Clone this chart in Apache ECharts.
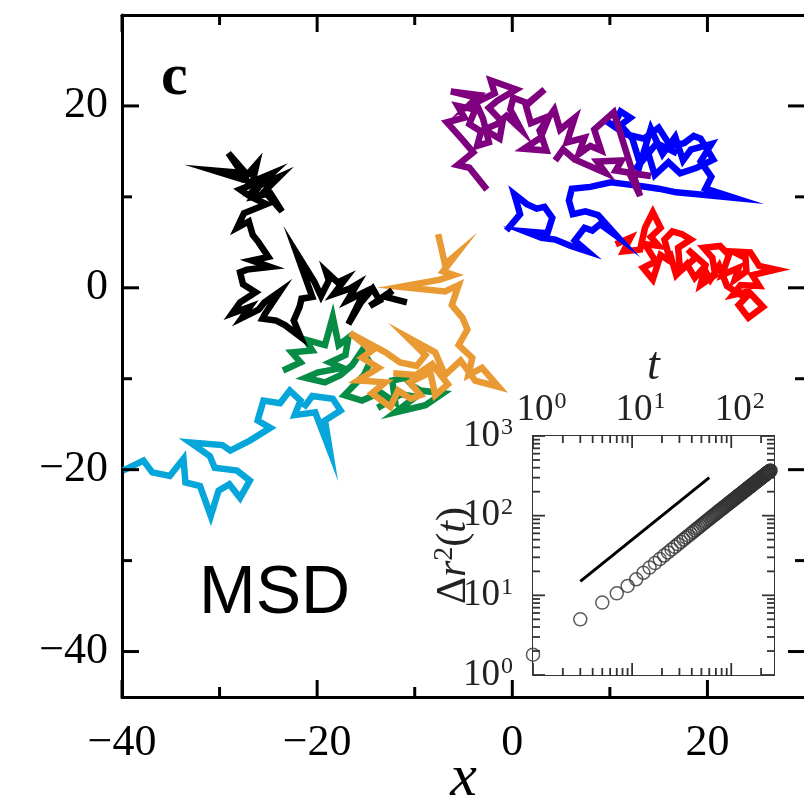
<!DOCTYPE html>
<html>
<head>
<meta charset="utf-8">
<script src="https://cdn.jsdelivr.net/npm/echarts@6/dist/echarts.min.js"></script>
<style>
  html, body { margin: 0; padding: 0; background: #fff; }
  #chart { width: 804px; height: 807px; }
</style>
</head>
<body>
<div id="chart"></div>
<script>
// ---- trajectories (x, y) ----
const blackPath = [[-27.0,11.5],[-29.1,14.8],[-27.3,12.6],[-30.6,12.9],[-27.6,11.9],[-26.2,13.6],[-26.6,11.7],[-24.6,12.6],[-26.0,11.2],[-23.9,12.2],[-25.4,10.6],[-23.6,8.4],[-24.8,10.4],[-26.6,10.0],[-25.6,11.8],[-27.9,10.8],[-26.8,10.0],[-25.2,9.2],[-27.5,8.2],[-28.2,6.6],[-27.0,7.3],[-26.6,5.8],[-26.0,5.0],[-25.0,3.4],[-26.7,3.0],[-24.8,2.3],[-27.2,2.0],[-27.9,1.7],[-27.6,0.4],[-26.3,-0.5],[-27.9,-1.6],[-28.7,-2.8],[-26.9,-2.1],[-27.7,-3.3],[-26.0,-2.4],[-25.4,-1.6],[-23.8,-0.4],[-25.3,-2.8],[-25.6,-3.4],[-24.2,-3.6],[-23.3,-4.1],[-21.7,-5.4],[-22.4,-3.6],[-21.8,-2.1],[-21.6,-1.2],[-20.5,-1.0],[-22.1,3.8],[-20.3,0.7],[-19.6,-0.9],[-18.8,0.8],[-19.1,1.8],[-17.9,0.6],[-17.1,1.0],[-18.3,-0.7],[-16.7,-0.1],[-15.9,0.4],[-16.9,-1.4],[-15.2,-0.5],[-16.8,-4.0],[-15.5,-1.6],[-14.3,-0.1],[-13.6,-1.4],[-14.6,-2.0],[-12.3,-0.3],[-13.0,-1.0],[-10.8,-1.6]];
const purplePath = [[-2.6,10.8],[-4.4,13.2],[-5.6,13.5],[-4.0,14.9],[-5.2,16.4],[-6.7,18.2],[-4.9,18.7],[-5.6,20.0],[-3.8,19.6],[-4.4,18.0],[-3.2,17.2],[-3.6,15.6],[-2.4,16.0],[-3.0,18.6],[-4.0,21.0],[-6.3,21.6],[-3.4,21.2],[-4.6,19.9],[-1.8,21.4],[-2.2,22.8],[0.4,21.8],[-1.5,20.6],[-2.4,19.8],[-1.0,18.2],[-1.3,16.4],[-2.9,17.4],[-1.6,18.0],[-0.6,18.9],[0.9,17.4],[-0.2,19.6],[0.1,20.9],[1.6,20.3],[3.3,21.8],[1.4,20.0],[1.9,18.1],[3.8,18.9],[2.9,16.5],[1.2,15.3],[3.5,15.1],[2.8,17.3],[4.3,19.6],[4.9,17.4],[6.4,18.7],[5.6,16.0],[7.4,16.5],[6.8,14.7],[8.0,15.6],[9.1,15.1],[8.4,17.4],[10.4,19.3],[13.1,10.1],[12.0,12.6],[14.2,12.3],[10.6,12.9],[11.2,14.0],[8.7,13.9],[9.6,12.6],[6.4,14.1],[5.2,15.2],[4.4,14.0]];
const bluePath = [[-0.6,6.3],[0.8,8.1],[0.2,10.3],[1.5,9.2],[2.5,8.7],[3.3,8.9],[4.1,7.7],[3.6,6.0],[1.3,6.2],[3.0,5.5],[4.4,5.3],[6.0,4.6],[7.7,4.0],[6.4,5.2],[7.4,6.6],[8.2,6.3],[9.0,7.0],[10.8,5.6],[8.8,8.0],[7.5,8.4],[6.2,8.1],[5.8,9.6],[6.1,10.9],[8.0,11.1],[10.1,11.6],[11.6,11.4],[13.1,11.2],[15.0,10.9],[16.8,10.5],[19.0,10.3],[22.7,9.9],[19.8,10.9],[20.4,12.2],[19.3,13.9],[20.4,15.8],[18.3,15.2],[17.5,14.0],[16.7,16.6],[15.4,14.7],[14.2,17.5],[13.1,13.6],[12.3,16.4],[11.1,17.9],[12.1,18.7],[11.1,19.4],[10.4,17.8],[9.4,18.5],[11.6,16.9],[13.5,16.4],[15.0,17.6],[16.2,15.6],[17.6,15.9],[18.6,16.7],[19.3,16.4],[20.6,14.1],[18.9,13.2],[17.2,12.6],[16.0,13.8],[14.6,12.4],[13.9,14.9],[12.6,13.0],[14.8,15.9],[16.9,14.8]];
const redPath = [[10.6,4.8],[12.1,5.5],[11.4,4.0],[13.1,4.2],[13.6,6.6],[14.4,8.3],[15.2,6.6],[14.2,5.6],[15.0,4.6],[13.6,4.8],[14.7,2.9],[13.4,2.2],[14.4,0.9],[15.2,3.6],[16.2,2.9],[15.6,5.3],[16.4,6.2],[17.4,5.9],[18.3,5.3],[17.0,4.4],[17.2,1.8],[18.8,3.3],[18.0,4.2],[19.8,2.5],[19.3,0.3],[20.8,1.4],[20.5,3.3],[19.6,4.4],[21.3,4.6],[22.2,3.6],[21.5,1.4],[23.2,2.2],[22.8,0.9],[24.0,1.8],[23.9,3.3],[22.6,4.0],[24.4,3.9],[25.3,2.4],[27.0,2.0],[24.6,1.4],[25.3,0.2],[23.4,0.3],[22.6,-0.8],[24.2,-0.4],[25.7,-2.1],[24.2,-3.3],[23.2,-1.9],[23.9,-1.1],[22.0,0.2],[21.2,2.4],[20.3,0.9],[19.6,2.2],[18.7,1.1],[17.9,2.6],[16.8,1.4],[16.1,4.0]];
const orangePath = [[-7.6,5.9],[-6.9,2.6],[-5.8,3.6],[-7.1,1.8],[-6.0,1.4],[-7.4,0.9],[-11.5,0.1],[-6.9,-0.4],[-5.5,0.3],[-6.2,-1.9],[-5.1,-3.3],[-4.6,-4.6],[-5.5,-6.3],[-4.1,-7.7],[-4.5,-9.6],[-3.1,-8.8],[-1.4,-10.9],[-3.8,-10.2],[-5.3,-8.0],[-6.9,-9.6],[-7.9,-7.1],[-10.8,-5.4],[-8.9,-7.4],[-9.8,-8.6],[-11.5,-8.2],[-13.0,-7.1],[-16.6,-5.0],[-14.4,-6.9],[-15.4,-7.7],[-13.7,-8.8],[-15.8,-10.2],[-13.0,-10.4],[-14.4,-11.6],[-12.5,-13.1],[-11.7,-11.3],[-10.4,-12.2],[-9.4,-11.8],[-10.5,-10.4],[-8.4,-9.3],[-7.9,-11.8],[-6.6,-10.6],[-8.2,-8.4],[-9.9,-9.6],[-12.2,-9.4]];
const greenPath = [[-23.5,-9.1],[-21.7,-8.2],[-22.6,-7.1],[-20.5,-6.9],[-21.2,-5.7],[-19.2,-6.3],[-18.4,-3.2],[-17.8,-6.3],[-16.8,-5.5],[-17.1,-7.4],[-18.7,-8.2],[-17.4,-8.8],[-19.9,-9.3],[-21.2,-9.9],[-19.2,-10.4],[-17.6,-9.6],[-16.4,-8.5],[-15.4,-6.9],[-14.6,-8.2],[-15.2,-9.6],[-16.2,-10.7],[-17.2,-11.8],[-15.4,-12.4],[-13.5,-11.5],[-12.0,-12.6],[-12.3,-10.2],[-11.0,-9.9],[-10.2,-10.8],[-9.4,-11.3],[-7.1,-11.6],[-8.9,-12.9],[-12.0,-13.7],[-9.9,-12.0],[-11.4,-11.7],[-13.8,-13.2]];
const cyanPath = [[-39.9,-20.1],[-37.8,-19.0],[-36.9,-20.3],[-35.1,-20.7],[-33.7,-18.8],[-33.5,-21.4],[-32.0,-21.8],[-30.9,-25.1],[-30.1,-22.3],[-29.0,-21.6],[-27.9,-23.1],[-26.9,-21.2],[-28.2,-20.1],[-30.5,-19.8],[-31.0,-18.5],[-33.0,-17.0],[-29.7,-17.3],[-28.9,-17.9],[-26.9,-16.8],[-24.8,-15.4],[-26.1,-14.6],[-25.5,-12.4],[-23.8,-12.7],[-22.8,-11.3],[-21.7,-12.4],[-22.3,-14.0],[-20.2,-13.7],[-18.7,-17.9],[-19.2,-14.6],[-17.6,-13.5],[-18.4,-12.2],[-20.5,-11.9],[-21.4,-13.2]];

// ---- mean squared displacement (inset) ----
const msdTime = [1,3,5,7,9,11,13,15,17,19,21,23,25,27,29,31,33,35,37,39,41,43,45,47,49,51,53,55,57,59,61,63,65,67,69,71,73,75,77,79,81,83,85,87,89,91,93,95,97,99,101,103,105,107,109,111,113,115,117,119,121,123,125,127,129,131,133,135,137,139,141,143,145,147,149,151,153,155,157,159,161,163,165,167,169,171,173,175,177,179,181,183,185,187,189,191,193,195,197,199,201,203,205,207,209,211,213,215,217,219,221,223,225,227,229,231,233,235,237,239,241,243,245,247,249];
const msdValue = [1.8,5.0,8.1,10.6,13.1,15.9,19.2,22.3,25.4,28.5,31.6,34.6,37.7,40.6,43.8,46.9,50.1,53.2,56.0,59.1,62.3,65.4,68.4,71.2,74.3,77.5,80.6,83.4,86.5,89.8,92.7,95.6,98.8,101.9,104.8,107.6,110.9,114.0,117.1,119.8,122.6,125.7,128.9,131.8,134.6,137.5,140.8,143.9,146.7,149.5,152.3,155.4,158.6,161.5,164.2,167.1,170.3,173.4,176.1,178.9,181.8,185.0,188.1,190.8,193.6,196.7,199.8,202.6,205.3,208.4,211.5,214.6,217.2,220.1,223.3,226.2,229.0,231.9,235.1,238.0,240.7,243.5,246.8,249.9,252.6,255.3,258.4,261.5,264.2,267.0,270.1,273.2,275.9,278.7,281.8,284.9,287.6,290.4,293.5,296.6,299.3,302.0,305.2,308.3,311.0,313.8,316.9,320.0,322.7,325.4,328.6,331.7,334.4,337.1,340.2,343.3,346.0,348.8,351.9,355.0,357.7,360.4,363.6,366.7,369.4];
const guideT = [3, 60];
const guideValue = [15, 300];

// ---- ticks ----
const mainXMajor = [-40, -20, 0, 20];
const mainXMinor = [-30, -10, 10];
const mainYMajor = [-40, -20, 0, 20];
const mainYMinor = [-30, -10, 10];
const insetXMajor = [1, 10, 100];
const insetXMinor = [2,3,4,5,6,7,8,9,20,30,40,50,60,70,80,90,200];
const insetYMajor = [1, 10, 100, 1000];
const insetYMinor = [2,3,4,5,6,7,8,9,20,30,40,50,60,70,80,90,200,300,400,500,600,700,800,900];

const SERIF = "'Liberation Serif', 'DejaVu Serif', serif";
const trajColors = {
  black: '#000000', purple: '#7f007f', blue: '#0000ff', red: '#ff0000',
  orange: '#ea9a33', green: '#068c44', cyan: '#06a6db'
};
const INSET_INK = '#333333';

const minus = v => (v < 0 ? '\u2212' + Math.abs(v) : String(v));
const pow10Label = v => '{b|10}{s|' + Math.round(Math.log10(v)) + '}';

function frameAxis(gridIndex, type, position, min, max, color, width) {
  const ax = {
    gridIndex, type, position, min, max,
    axisLine: { show: true, onZero: false, lineStyle: { color, width } },
    axisTick: { show: false },
    axisLabel: { show: false },
    splitLine: { show: false },
    nameMoveOverlap: false
  };
  if (type === 'log') ax.logBase = 10;
  return ax;
}

// main frame
const xMainBottom = frameAxis(0, 'value', 'bottom', -40, 30, '#000', 3);
xMainBottom.axisLabel = {
  show: true, customValues: mainXMajor, formatter: minus,
  fontFamily: SERIF, fontSize: 44, color: '#000', margin: 24
};
Object.assign(xMainBottom, {
  name: 'x', nameLocation: 'middle', nameGap: 52,
  nameTextStyle: { fontFamily: SERIF, fontStyle: 'italic', fontSize: 60, color: '#000' }
});
const xMainTop = frameAxis(0, 'value', 'top', -40, 30, '#000', 3);

const yMainLeft = frameAxis(0, 'value', 'left', -45, 30, '#000', 3);
yMainLeft.axisLabel = {
  show: true, customValues: mainYMajor, formatter: minus,
  fontFamily: SERIF, fontSize: 44, color: '#000', margin: 14
};
const yMainRight = frameAxis(0, 'value', 'right', -45, 30, '#000', 3);

// inset frame
const labelRich = {
  b: { fontFamily: SERIF, fontSize: 37, color: '#222' },
  s: { fontFamily: SERIF, fontSize: 24, color: '#222', verticalAlign: 'top', padding: [0, 0, 16, 1] }
};
const xInBottom = frameAxis(1, 'log', 'bottom', 1, 270, INSET_INK, 2);
const xInTop = frameAxis(1, 'log', 'top', 1, 270, INSET_INK, 2);
xInTop.axisLabel = {
  show: true, customValues: insetXMajor, formatter: pow10Label, margin: 6,
  rich: { b: Object.assign({}, labelRich.b, { padding: [0, 0, 0, 17] }), s: labelRich.s }
};
Object.assign(xInTop, {
  name: 't', nameLocation: 'middle', nameGap: 46,
  nameTextStyle: { fontFamily: SERIF, fontStyle: 'italic', fontSize: 46, color: '#222' }
});
const yInLeft = frameAxis(1, 'log', 'left', 1, 1000, INSET_INK, 2);
yInLeft.axisLabel = { show: true, customValues: insetYMajor, formatter: pow10Label, margin: 20, rich: labelRich };
Object.assign(yInLeft, {
  name: '{d|\u0394}{i|r}{s|2}{d|(}{i|t}{d|)}', nameLocation: 'middle', nameGap: 56,
  nameTextStyle: {
    rich: {
      d: { fontFamily: SERIF, fontSize: 42, color: '#222' },
      i: { fontFamily: SERIF, fontSize: 42, fontStyle: 'italic', color: '#222' },
      s: { fontFamily: SERIF, fontSize: 28, color: '#222', verticalAlign: 'top', padding: [0, 0, 18, 0] }
    }
  }
});
const yInRight = frameAxis(1, 'log', 'right', 1, 1000, INSET_INK, 2);

function trajectory(name, path) {
  return {
    name, type: 'line', xAxisIndex: 0, yAxisIndex: 0,
    data: path, showSymbol: false, symbol: 'none', silent: true,
    lineStyle: { color: trajColors[name], width: 6.5, join: 'miter', miterLimit: 10, cap: 'butt' },
    z: 3
  };
}

const labels = [
  { id: 'panel', type: 'text', left: 161, top: 48, z: 10,
    style: { text: 'c', font: "bold 60px 'Liberation Serif', serif", fill: '#000' } },
  { id: 'msd', type: 'text', left: 199, top: 560, z: 10,
    style: { text: 'MSD', font: "68px 'Liberation Sans', Arial, sans-serif", fill: '#000' } }
];

const option = {
  animation: false,
  backgroundColor: '#fff',
  grid: [
    { left: 122, top: 15, width: 683, height: 682, containLabel: false, outerBoundsMode: 'none' },
    { left: 533, top: 436, width: 241, height: 239, containLabel: false, outerBoundsMode: 'none',
      show: true, backgroundColor: '#fff', borderWidth: 0, z: 5 }
  ],
  xAxis: [xMainBottom, xMainTop, xInBottom, xInTop],
  yAxis: [yMainLeft, yMainRight, yInLeft, yInRight],
  graphic: { elements: labels },
  series: [
    trajectory('cyan', cyanPath),
    trajectory('green', greenPath),
    trajectory('orange', orangePath),
    trajectory('black', blackPath),
    trajectory('red', redPath),
    trajectory('blue', bluePath),
    trajectory('purple', purplePath),
    {
      name: 'msd', type: 'scatter', xAxisIndex: 2, yAxisIndex: 2, z: 6,
      data: msdTime.map((t, i) => [t, msdValue[i]]),
      symbol: 'circle', symbolSize: 13,
      itemStyle: { color: 'rgba(0,0,0,0)', borderColor: INSET_INK, borderWidth: 1.5 }
    },
    {
      name: 'guide', type: 'line', xAxisIndex: 2, yAxisIndex: 2, z: 6,
      data: guideT.map((t, i) => [t, guideValue[i]]),
      showSymbol: false, symbol: 'none',
      lineStyle: { color: '#000', width: 3 }
    }
  ]
};

const chart = echarts.init(document.getElementById('chart'), null, { renderer: 'canvas' });
chart.setOption(option);

// inward tick marks on all four sides of each frame, placed through the axes' own scales
function frameTicks(finder, xr, yr, xMajor, xMinor, yMajor, yMinor, majorLen, minorLen, color, width) {
  const out = [];
  const seg = (x1, y1, x2, y2) => out.push({
    type: 'line', silent: true, z: 20,
    shape: { x1, y1, x2, y2 },
    style: { stroke: color, lineWidth: width }
  });
  const toPx = p => chart.convertToPixel(finder, p);
  const xTick = (v, len) => {
    const b = toPx([v, yr[0]]);
    const t = toPx([v, yr[1]]);
    seg(b[0], b[1], b[0], b[1] - len);
    seg(t[0], t[1], t[0], t[1] + len);
  };
  const yTick = (v, len) => {
    const l = toPx([xr[0], v]);
    const r = toPx([xr[1], v]);
    seg(l[0], l[1], l[0] + len, l[1]);
    seg(r[0], r[1], r[0] - len, r[1]);
  };
  xMajor.forEach(v => xTick(v, majorLen));
  xMinor.forEach(v => xTick(v, minorLen));
  yMajor.forEach(v => yTick(v, majorLen));
  yMinor.forEach(v => yTick(v, minorLen));
  return out;
}

const tickMarks = frameTicks({ xAxisIndex: 0, yAxisIndex: 0 }, [-40, 30], [-45, 30],
    mainXMajor, mainXMinor, mainYMajor, mainYMinor, 17, 10, '#000', 3)
  .concat(frameTicks({ xAxisIndex: 2, yAxisIndex: 2 }, [1, 270], [1, 1000],
    insetXMajor, insetXMinor, insetYMajor, insetYMinor, 12, 7, INSET_INK, 1.8));

chart.setOption({ graphic: { elements: labels.concat(tickMarks) } });
</script>
</body>
</html>
